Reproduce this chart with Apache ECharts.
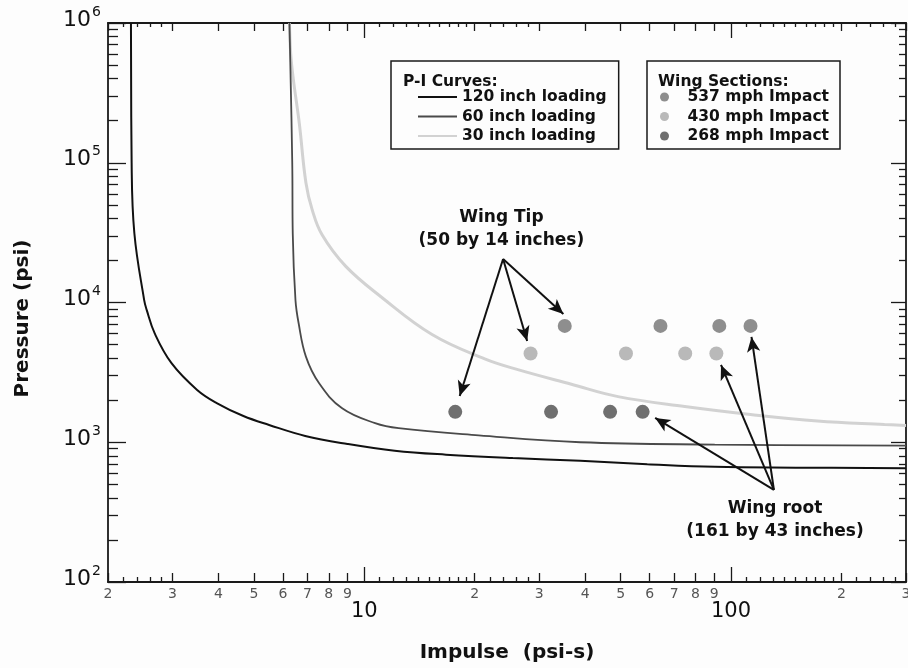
<!DOCTYPE html>
<html>
<head>
<meta charset="utf-8">
<script src="https://cdn.jsdelivr.net/npm/echarts@6/dist/echarts.min.js"></script>
<style>
  html, body { margin: 0; padding: 0; background: #fdfdfd; }
  #chart { width: 908px; height: 668px; }
</style>
</head>
<body>
<div id="chart"></div>
<script>
// P-I curves, impulse (psi-s) and pressure (psi)
const curve120Impulse = [2.31, 2.32, 2.36, 2.51, 2.55, 2.68, 2.98, 3.5, 3.97, 4.68, 5.5, 6.9, 9.0, 12.1, 16.7, 25.4, 38.8, 59.1, 90.3, 150, 300]
const curve120Pressure = [1e6, 1e5, 31300, 10400, 8850, 6030, 3680, 2370, 1900, 1540, 1330, 1110, 972, 870, 815, 770, 737, 697, 667, 658, 652]

const curve60Impulse = [6.25, 6.36, 6.38, 6.49, 6.62, 6.93, 7.53, 8.7, 10.7, 12.4, 20.5, 38.8, 90.3, 300]
const curve60Pressure = [1e6, 1e5, 31300, 10400, 7100, 4100, 2640, 1750, 1370, 1260, 1120, 1000, 963, 945]

const curve30Impulse = [6.25, 6.3, 6.4, 6.65, 6.93, 7.21, 7.67, 8.89, 11.1, 15.3, 21.3, 25.8, 36.7, 49.2, 74.8, 113, 172, 262, 300]
const curve30Pressure = [1e6, 6e5, 4e5, 1.9e5, 7.2e4, 4.6e4, 3.05e4, 1.82e4, 1.1e4, 5900, 3950, 3350, 2600, 2120, 1800, 1580, 1420, 1340, 1320]

// wing section points
const impact537Impulse = [35.2, 64.2, 92.9, 113]
const impact537Pressure = [6800, 6800, 6800, 6800]
const impact430Impulse = [28.4, 51.7, 75.0, 91.2]
const impact430Pressure = [4320, 4320, 4320, 4320]
const impact268Impulse = [17.7, 32.3, 46.8, 57.4]
const impact268Pressure = [1650, 1650, 1650, 1650]

// annotations: [impulse, pressure]
const tipLabelAt = [23.65, 33770]
const tipArrowFrom = [23.9, 20500]
const tipArrowTo = [[18.2, 2145], [27.8, 5307], [34.9, 8279]]
const rootLabelAt = [131.8, 275.7]
const rootArrowFrom = [130.9, 456]
const rootArrowTo = [[62.1, 1492], [93.9, 3574], [113.7, 5669]]

// axis ticks
const xRange = [2, 300]
const yRange = [1e2, 1e6]
const xMajorTicks = [10, 100]
const xLabelTicks = [2, 3, 4, 5, 6, 7, 8, 9, 20, 30, 40, 50, 60, 70, 80, 90, 200, 300]
const xSmallTicks = [2.2, 2.4, 2.6, 2.8, 11, 12, 13, 14, 15, 16, 17, 18, 19, 22, 24, 26, 28,
  110, 120, 130, 140, 150, 160, 170, 180, 190, 220, 240, 260, 280]
const yMajorTicks = [1e2, 1e3, 1e4, 1e5, 1e6]
const yMinorTicks = [200, 300, 400, 500, 600, 700, 800, 900,
  2000, 3000, 4000, 5000, 6000, 7000, 8000, 9000,
  2e4, 3e4, 4e4, 5e4, 6e4, 7e4, 8e4, 9e4,
  2e5, 3e5, 4e5, 5e5, 6e5, 7e5, 8e5, 9e5]

const LOG = (v) => Math.log10(v)
const pairs = (xs, ys) => xs.map((x, i) => [LOG(x), LOG(ys[i])])
const pt = (p) => [LOG(p[0]), LOG(p[1])]

const FONT = 'DejaVu Sans'
const INK = '#1a1a1a'

const chart = echarts.init(document.getElementById('chart'), null, { renderer: 'canvas' })

const baseX = {
  type: 'value',
  min: LOG(xRange[0]),
  max: LOG(xRange[1]),
  splitLine: { show: false },
  axisLine: { show: false },
  axisLabel: { show: false },
}
const baseY = {
  type: 'value',
  min: LOG(yRange[0]),
  max: LOG(yRange[1]),
  splitLine: { show: false },
  axisLine: { show: false },
  axisLabel: { show: false },
}
const tick = (vals, len) => ({
  show: true, inside: true, length: len,
  customValues: vals.map(LOG),
  lineStyle: { color: INK, width: 1.3 },
})

const xAxes = [
  {
    ...baseX, position: 'bottom',
    axisLine: { show: true, onZero: false, lineStyle: { color: INK, width: 1.8 } },
    axisTick: tick(xLabelTicks, 9),
    axisLabel: {
      show: true, margin: 5, color: '#555', fontFamily: FONT, fontSize: 14,
      customValues: xLabelTicks.map(LOG),
      formatter: (v) => String(Math.round(Math.pow(10, v - Math.floor(v + 1e-9)))),
    },
    name: 'Impulse  (psi-s)', nameLocation: 'middle', nameGap: 61, nameMoveOverlap: false,
    nameTextStyle: { fontFamily: FONT, fontWeight: 'bold', fontSize: 20, color: '#111' },
  },
  {
    ...baseX, position: 'bottom',
    axisTick: tick(xMajorTicks, 15),
    axisLabel: {
      show: true, margin: 19, color: '#111', fontFamily: FONT, fontSize: 21,
      customValues: xMajorTicks.map(LOG),
      formatter: (v) => String(Math.round(Math.pow(10, v))),
    },
  },
  { ...baseX, position: 'bottom', axisTick: tick(xSmallTicks, 5) },
  {
    ...baseX, position: 'top',
    axisLine: { show: true, onZero: false, lineStyle: { color: INK, width: 1.8 } },
    axisTick: tick(xLabelTicks, 8),
  },
  { ...baseX, position: 'top', axisTick: tick(xMajorTicks, 15) },
  { ...baseX, position: 'top', axisTick: tick(xSmallTicks, 4) },
]

const yAxes = [
  {
    ...baseY, position: 'left',
    axisLine: { show: true, onZero: false, lineStyle: { color: INK, width: 1.8 } },
    axisTick: tick(yMajorTicks, 18),
    axisLabel: {
      show: true, margin: 7, padding: [0, 0, 6, 0],
      customValues: yMajorTicks.map(LOG),
      formatter: (v) => '{b|10}{e|' + Math.round(v) + '}',
      rich: {
        b: { fontFamily: FONT, fontSize: 22, lineHeight: 22, color: '#111', verticalAlign: 'bottom' },
        e: { fontFamily: FONT, fontSize: 14, lineHeight: 14, color: '#111', padding: [0, 0, 16, 1] },
      },
    },
    name: 'Pressure (psi)', nameLocation: 'middle', nameGap: 75, nameRotate: 90, nameMoveOverlap: false,
    nameTextStyle: { fontFamily: FONT, fontWeight: 'bold', fontSize: 20, color: '#111', padding: [0, 32, 0, 0] },
  },
  { ...baseY, position: 'left', axisTick: tick(yMinorTicks, 10) },
  {
    ...baseY, position: 'right',
    axisLine: { show: true, onZero: false, lineStyle: { color: INK, width: 1.8 } },
    axisTick: tick(yMajorTicks, 15),
  },
  { ...baseY, position: 'right', axisTick: tick(yMinorTicks, 7) },
]

const arrowLines = (from, tos) => tos.map((t) => [{ coord: pt(from) }, { coord: pt(t) }])

const legendText = { fontFamily: FONT, fontWeight: 'bold', fontSize: 15.5, color: '#111', lineHeight: 16 }
const noteText = { fontFamily: FONT, fontWeight: 'bold', fontSize: 17, color: '#111', lineHeight: 23 }

const curveSeries = (name, xs, ys, color, width) => ({
  name, type: 'line', symbol: 'none', showSymbol: false,
  smooth: 0.4,
  lineStyle: { color, width }, itemStyle: { color },
  data: pairs(xs, ys),
})
const dotSeries = (name, xs, ys, color) => ({
  name, type: 'scatter', symbol: 'circle', symbolSize: 14,
  itemStyle: { color, opacity: 1 },
  data: pairs(xs, ys),
})

chart.setOption({
  animation: false,
  backgroundColor: '#fdfdfd',
  grid: { left: 108, right: 2, top: 23, bottom: 86, outerBoundsMode: 'none', containLabel: false },
  xAxis: xAxes,
  yAxis: yAxes,
  title: [
    { text: 'P-I Curves:', left: 403, top: 74, padding: 0, textStyle: { ...legendText } },
    { text: 'Wing Sections:', left: 658, top: 74, padding: 0, textStyle: { ...legendText } },
  ],
  legend: [
    {
      data: [
        { name: '120 inch loading', icon: 'rect' },
        { name: '60 inch loading', icon: 'rect' },
        { name: '30 inch loading', icon: 'rect' },
      ],
      orient: 'vertical', left: 391, top: 61,
      padding: [28, 12, 5, 27],
      itemWidth: 39, itemHeight: 2, itemGap: 3.5,
      backgroundColor: '#fdfdfd', borderColor: INK, borderWidth: 1.5,
      selectedMode: false, textStyle: legendText,
    },
    {
      data: ['537 mph Impact', '430 mph Impact', '268 mph Impact'],
      orient: 'vertical', left: 647, top: 61,
      padding: [28, 11, 5, 13],
      itemWidth: 36, itemHeight: 9, itemGap: 3.5,
      backgroundColor: '#fdfdfd', borderColor: INK, borderWidth: 1.5,
      selectedMode: false, textStyle: legendText,
    },
  ],
  series: [
    curveSeries('30 inch loading', curve30Impulse, curve30Pressure, '#d2d2d2', 3),
    curveSeries('60 inch loading', curve60Impulse, curve60Pressure, '#4a4a4a', 1.8),
    curveSeries('120 inch loading', curve120Impulse, curve120Pressure, '#111', 2),
    dotSeries('537 mph Impact', impact537Impulse, impact537Pressure, '#8e8e8e'),
    dotSeries('430 mph Impact', impact430Impulse, impact430Pressure, '#b9b9b9'),
    dotSeries('268 mph Impact', impact268Impulse, impact268Pressure, '#6f6f6f'),
    {
      name: 'notes', type: 'scatter', symbolSize: 0, silent: true,
      itemStyle: { opacity: 1 },
      label: { show: true, position: 'inside', formatter: (p) => p.name, ...noteText, align: 'center' },
      data: [
        { name: 'Wing Tip\n(50 by 14 inches)', value: pt(tipLabelAt) },
        { name: 'Wing root\n(161 by 43 inches)', value: pt(rootLabelAt) },
      ],
      markLine: {
        silent: true, animation: false,
        symbol: ['none', 'arrow'], symbolSize: [10, 15],
        label: { show: false },
        lineStyle: { color: '#111', width: 2, type: 'solid', opacity: 1 },
        data: [...arrowLines(tipArrowFrom, tipArrowTo), ...arrowLines(rootArrowFrom, rootArrowTo)],
      },
    },
  ],
})
</script>
</body>
</html>
